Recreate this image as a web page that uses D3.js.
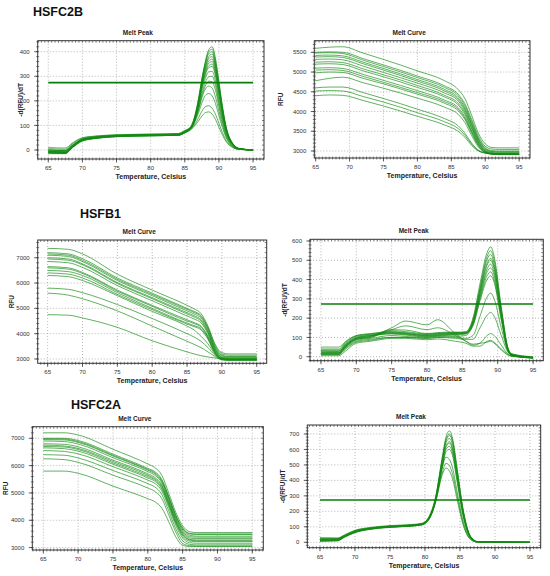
<!DOCTYPE html>
<html>
<head>
<meta charset="utf-8">
<script src="https://cdn.jsdelivr.net/npm/d3@7"></script>
<style>
  body { margin: 0; background: #fff; }
  text { font-family: "Liberation Sans", Arial, sans-serif; }
</style>
</head>
<body>
<svg id="fig" width="550" height="576"></svg>
<script>
// ---------- data ----------
const geneNames = ['HSFC2B', 'HSFB1', 'HSFC2A'];
const xTicks = [65, 70, 75, 80, 85, 90, 95];
const thresholds = [274, 273, 273];

// HSFC2B melt peak
const c2bPeakTemps = [65, 67.5, 68.5, 70, 72, 75, 80, 84, 85, 86, 87, 87.5, 88, 88.5, 89, 89.5, 90, 90.5, 91, 92, 93, 95];
const c2bPeak = [
  [-5, -8, 15, 42, 52, 58, 62, 64, 75, 100, 205, 290, 360, 408, 420, 372, 278, 182, 102, 28, 6, 0],
  [0, -3, 20, 45, 54, 60, 63, 65, 76, 98, 198, 282, 352, 400, 410, 362, 270, 176, 98, 27, 6, 1],
  [-10, -12, 12, 40, 50, 56, 60, 62, 73, 102, 208, 288, 352, 392, 400, 352, 262, 170, 95, 26, 5, 0],
  [5, 3, 25, 48, 56, 61, 64, 66, 78, 95, 195, 275, 340, 380, 390, 345, 258, 168, 93, 25, 5, 0],
  [-8, -10, 14, 40, 50, 56, 59, 61, 72, 96, 195, 272, 335, 372, 380, 338, 252, 165, 92, 25, 5, 0],
  [-12, -14, 10, 38, 48, 55, 58, 60, 70, 94, 190, 265, 327, 362, 370, 328, 245, 160, 90, 24, 5, 0],
  [0, -2, 18, 44, 53, 59, 62, 64, 75, 97, 188, 262, 320, 353, 360, 318, 238, 155, 88, 24, 5, 0],
  [-5, -7, 15, 42, 51, 57, 61, 63, 74, 95, 185, 258, 312, 343, 350, 310, 230, 150, 85, 23, 5, 0],
  [-15, -15, 8, 36, 47, 54, 58, 60, 70, 92, 182, 252, 305, 335, 340, 300, 222, 145, 82, 22, 4, 0],
  [10, 8, 28, 50, 57, 62, 65, 67, 80, 96, 180, 245, 292, 318, 320, 280, 205, 135, 78, 21, 4, 0],
  [-5, -8, 14, 40, 50, 56, 60, 62, 73, 93, 170, 230, 275, 298, 300, 262, 192, 126, 72, 20, 4, 0],
  [-10, -12, 10, 38, 48, 55, 58, 60, 70, 92, 165, 220, 260, 280, 278, 242, 178, 116, 66, 18, 4, 0],
  [0, -2, 18, 44, 52, 58, 61, 63, 74, 94, 162, 212, 248, 260, 252, 215, 158, 104, 60, 16, 3, 0],
  [-8, -10, 14, 40, 50, 56, 60, 62, 72, 90, 150, 192, 222, 230, 220, 188, 140, 92, 54, 14, 3, 0],
  [-5, -8, 15, 42, 51, 57, 61, 63, 74, 88, 130, 158, 176, 180, 170, 145, 108, 72, 42, 12, 3, 0],
  [-12, -14, 10, 38, 48, 55, 58, 60, 70, 85, 118, 138, 152, 155, 146, 124, 92, 62, 36, 10, 2, 0]
];

// HSFC2B melt curve
const c2bCurveTemps = [65, 67, 69, 72, 75, 80, 84, 86, 87, 88, 89, 90, 91, 92, 95];
const c2bCurve = [
  [5600, 5630, 5640, 5480, 5320, 5030, 4780, 4560, 4330, 3900, 3450, 3180, 3090, 3080, 3080],
  [5500, 5510, 5500, 5340, 5180, 4900, 4650, 4440, 4200, 3800, 3380, 3120, 3050, 3040, 3040],
  [5480, 5490, 5470, 5300, 5140, 4860, 4610, 4400, 4150, 3750, 3330, 3080, 3010, 3000, 3000],
  [5420, 5430, 5410, 5250, 5090, 4810, 4560, 4350, 4100, 3700, 3300, 3060, 2990, 2980, 2980],
  [5380, 5390, 5370, 5210, 5050, 4770, 4520, 4310, 4060, 3670, 3270, 3040, 2980, 2970, 2970],
  [5320, 5330, 5310, 5150, 4990, 4720, 4470, 4270, 4020, 3630, 3250, 3020, 2960, 2950, 2950],
  [5250, 5260, 5240, 5080, 4930, 4660, 4410, 4210, 3970, 3590, 3220, 3000, 2950, 2940, 2940],
  [5200, 5210, 5190, 5030, 4880, 4610, 4370, 4170, 3930, 3560, 3200, 2990, 2940, 2930, 2930],
  [5100, 5110, 5090, 4940, 4790, 4530, 4290, 4100, 3870, 3510, 3170, 2980, 2930, 2920, 2920],
  [5050, 5060, 5040, 4890, 4740, 4480, 4250, 4060, 3830, 3480, 3150, 2970, 2930, 2920, 2920],
  [4980, 5000, 4990, 4840, 4700, 4440, 4210, 4020, 3800, 3450, 3130, 2960, 2920, 2910, 2910],
  [4780, 4840, 4870, 4730, 4590, 4340, 4110, 3930, 3720, 3390, 3100, 2960, 2920, 2910, 2910],
  [4600, 4620, 4620, 4480, 4330, 4060, 3820, 3640, 3450, 3200, 3020, 2950, 2930, 2920, 2920],
  [4520, 4530, 4520, 4380, 4240, 3970, 3740, 3570, 3400, 3170, 3010, 2950, 2930, 2920, 2920],
  [4400, 4420, 4410, 4280, 4140, 3880, 3660, 3500, 3350, 3140, 3000, 2950, 2930, 2920, 2920]
];

// HSFB1 melt curve
const b1CurveTemps = [65, 68, 70, 75, 80, 85, 86, 87, 88, 89, 90, 91, 92, 95];
const b1Curve = [
  [7370, 7330, 7150, 6350, 5720, 5120, 4980, 4800, 4300, 3600, 3250, 3200, 3200, 3200],
  [7200, 7150, 6960, 6200, 5600, 5000, 4880, 4720, 4250, 3550, 3200, 3150, 3150, 3150],
  [7150, 7100, 6900, 6150, 5550, 4960, 4840, 4680, 4200, 3500, 3150, 3100, 3100, 3100],
  [7100, 7050, 6850, 6100, 5500, 4900, 4780, 4620, 4150, 3450, 3120, 3080, 3080, 3080],
  [7000, 6950, 6760, 6020, 5420, 4830, 4710, 4550, 4080, 3400, 3080, 3050, 3050, 3050],
  [6950, 6900, 6720, 5980, 5380, 4780, 4660, 4500, 4050, 3380, 3060, 3030, 3030, 3030],
  [6850, 6800, 6620, 5900, 5300, 4700, 4580, 4430, 3990, 3340, 3040, 3010, 3010, 3010],
  [6650, 6600, 6420, 5720, 5120, 4550, 4440, 4300, 3900, 3300, 3020, 3000, 3000, 3000],
  [6600, 6550, 6380, 5680, 5080, 4500, 4400, 4260, 3870, 3280, 3010, 2990, 2990, 2990],
  [6500, 6450, 6300, 5620, 5000, 4420, 4320, 4200, 3820, 3250, 3000, 2980, 2980, 2980],
  [6400, 6350, 6200, 5550, 4950, 4380, 4280, 4150, 3780, 3220, 2990, 2970, 2970, 2970],
  [6300, 6250, 6100, 5500, 4880, 4300, 4150, 3900, 3600, 3200, 2980, 2960, 2960, 2960],
  [5800, 5750, 5620, 5150, 4600, 4000, 3870, 3700, 3450, 3150, 2980, 2950, 2950, 2950],
  [5600, 5520, 5380, 4900, 4300, 3700, 3580, 3450, 3280, 3100, 2970, 2950, 2950, 2950],
  [4750, 4730, 4620, 4250, 3720, 3280, 3200, 3130, 3080, 3040, 3000, 2980, 2980, 2980]
];

// HSFB1 melt peak
const b1PeakTemps = [65, 67.5, 68.5, 70, 72, 75, 77, 80, 81.5, 84, 85.5, 86.5, 87.5, 88.5, 89, 89.5, 90.5, 91.5, 92, 95];
const b1Peak = [
  [50, 50, 80, 110, 120, 130, 125, 115, 120, 125, 130, 200, 380, 540, 570, 520, 260, 40, 15, 0],
  [40, 40, 75, 108, 118, 128, 122, 112, 118, 122, 128, 190, 360, 520, 550, 500, 250, 38, 14, -2],
  [35, 35, 70, 105, 115, 125, 120, 110, 115, 120, 125, 185, 350, 505, 530, 480, 240, 35, 12, -3],
  [30, 28, 65, 100, 112, 122, 118, 108, 112, 118, 122, 180, 340, 485, 510, 465, 230, 32, 10, -5],
  [25, 25, 62, 98, 110, 120, 115, 105, 110, 115, 120, 175, 320, 455, 480, 435, 215, 30, 10, -5],
  [20, 20, 58, 95, 108, 118, 112, 102, 108, 112, 118, 170, 310, 440, 460, 420, 210, 28, 8, -6],
  [15, 15, 55, 92, 105, 140, 138, 120, 125, 128, 125, 165, 300, 420, 440, 400, 200, 28, 8, -8],
  [12, 12, 50, 90, 100, 135, 130, 118, 122, 125, 120, 160, 290, 400, 420, 385, 190, 26, 8, -8],
  [10, 10, 40, 75, 85, 100, 100, 95, 100, 105, 110, 170, 330, 475, 500, 455, 225, 30, 10, -5],
  [20, 20, 50, 85, 95, 110, 105, 100, 105, 100, 95, 110, 210, 310, 330, 300, 150, 25, 8, -5],
  [15, 15, 45, 80, 90, 100, 100, 95, 100, 95, 90, 90, 150, 215, 230, 210, 110, 20, 6, -5],
  [30, 30, 60, 95, 105, 150, 185, 165, 192, 120, 80, 60, 70, 110, 120, 110, 60, 12, 4, -5],
  [20, 20, 55, 90, 100, 140, 160, 140, 150, 110, 80, 65, 70, 75, 80, 70, 35, 8, 2, -5],
  [5, 5, 30, 70, 80, 95, 95, 88, 92, 80, 70, 55, 55, 80, 85, 75, 40, 10, 3, -5]
];

// HSFC2A melt curve
const c2aCurveTemps = [65, 68, 70, 75, 80, 81, 82, 83, 84, 85, 86, 87, 90, 95];
const c2aCurve = [
  [7200, 7200, 7120, 6600, 6060, 5930, 5650, 5000, 4300, 3800, 3580, 3550, 3550, 3550],
  [7000, 7000, 6920, 6420, 5900, 5780, 5500, 4880, 4200, 3720, 3520, 3500, 3500, 3500],
  [6980, 6970, 6880, 6380, 5860, 5740, 5460, 4850, 4180, 3700, 3500, 3480, 3480, 3480],
  [6950, 6940, 6850, 6350, 5830, 5700, 5420, 4800, 4130, 3650, 3450, 3420, 3420, 3420],
  [6900, 6880, 6790, 6290, 5780, 5650, 5370, 4750, 4080, 3600, 3400, 3380, 3380, 3380],
  [6800, 6780, 6690, 6200, 5700, 5570, 5290, 4680, 4020, 3550, 3350, 3330, 3330, 3330],
  [6750, 6720, 6630, 6150, 5650, 5520, 5250, 4640, 3980, 3500, 3300, 3280, 3280, 3280],
  [6700, 6680, 6590, 6100, 5600, 5480, 5200, 4600, 3950, 3470, 3280, 3250, 3250, 3250],
  [6650, 6620, 6530, 6050, 5550, 5430, 5150, 4550, 3900, 3420, 3240, 3220, 3220, 3220],
  [6550, 6520, 6430, 5960, 5470, 5350, 5080, 4480, 3830, 3350, 3180, 3160, 3160, 3160],
  [6400, 6380, 6280, 5820, 5340, 5220, 4950, 4350, 3700, 3250, 3120, 3100, 3100, 3100],
  [6250, 6220, 6120, 5650, 5180, 5060, 4800, 4200, 3580, 3150, 3070, 3060, 3060, 3060],
  [5800, 5800, 5720, 5250, 4790, 4680, 4450, 3950, 3400, 3080, 3040, 3040, 3040, 3040]
];

// HSFC2A melt peak
const c2aPeakTemps = [65, 67.5, 68.5, 70, 72, 75, 78, 79.5, 80.5, 81.5, 82.5, 83, 83.5, 84, 84.5, 85.5, 86.5, 87.5, 90, 95];
const c2aPeak = [
  [25, 25, 45, 75, 92, 105, 112, 120, 160, 290, 560, 680, 720, 660, 510, 200, 40, 5, 3, 0],
  [20, 22, 42, 72, 90, 103, 110, 118, 155, 280, 545, 665, 700, 645, 495, 195, 38, 4, 2, 0],
  [15, 18, 40, 70, 88, 100, 108, 116, 150, 275, 535, 655, 690, 635, 488, 190, 36, 4, 2, 0],
  [30, 28, 48, 78, 95, 108, 115, 122, 158, 285, 540, 645, 670, 615, 470, 185, 35, 3, 2, 0],
  [10, 12, 35, 65, 85, 98, 106, 114, 148, 268, 515, 625, 650, 595, 455, 178, 33, 3, 1, 0],
  [5, 8, 32, 62, 82, 96, 104, 112, 145, 262, 505, 615, 640, 585, 448, 175, 32, 3, 1, 0],
  [18, 20, 40, 70, 88, 102, 110, 118, 150, 268, 500, 600, 620, 565, 430, 165, 30, 2, 1, 0],
  [12, 14, 36, 66, 85, 99, 107, 115, 147, 262, 488, 585, 600, 548, 415, 160, 28, 2, 1, 0],
  [22, 22, 42, 72, 90, 104, 110, 118, 150, 275, 490, 550, 535, 470, 350, 130, 22, 2, 1, 0],
  [10, 12, 34, 64, 84, 98, 105, 112, 145, 262, 455, 510, 495, 430, 320, 115, 20, 2, 1, 0],
  [15, 15, 36, 66, 86, 100, 106, 113, 142, 255, 440, 480, 460, 400, 295, 105, 18, 2, 1, 0]
];

const peakTicks = [0, 100, 200, 300, 400, 500, 600, 700];
const c2bCurveTicks = [3000, 3500, 4000, 4500, 5000, 5500];
const rfuTicks = [3000, 4000, 5000, 6000, 7000];

// ---------- layout ----------
const svg = d3.select('#fig');
const green = '#138a13';

const panels = [
  { temps: c2bPeakTemps, rows: c2bPeak, box: [37.7, 40.7, 226.3, 118.3], xd: [63.45, 96.6], yd: [-36.6, 444.8],
    ticks: peakTicks.slice(0, 5), minor: 20, title: 'Melt Peak', ylab: '-d(RFU)/dT', ylabX: 20.5, thr: thresholds[0] },
  { temps: c2bCurveTemps, rows: c2bCurve, box: [314.3, 40.7, 215.7, 117.3], xd: [64.8, 96.6], yd: [2823, 5794],
    ticks: c2bCurveTicks, minor: 100, title: 'Melt Curve', ylab: 'RFU', ylabX: 281 },
  { temps: b1CurveTemps, rows: b1Curve, box: [37.7, 240, 229, 123.3], xd: [63.57, 96.43], yd: [2830, 7700],
    ticks: rfuTicks, minor: 200, title: 'Melt Curve', ylab: 'RFU', ylabX: 11.5 },
  { temps: b1PeakTemps, rows: b1Peak, box: [310, 239.3, 233.3, 121.4], xd: [63.45, 96.45], yd: [-20.7, 608.8],
    ticks: peakTicks.slice(0, 7), minor: 20, title: 'Melt Peak', ylab: '-d(RFU)/dT', ylabX: 285, thr: thresholds[1] },
  { temps: c2aCurveTemps, rows: c2aCurve, box: [32.3, 426.7, 231, 123.3], xd: [63.42, 96.58], yd: [2912, 7424],
    ticks: rfuTicks, minor: 200, title: 'Melt Curve', ylab: 'RFU', ylabX: 5.5 },
  { temps: c2aPeakTemps, rows: c2aPeak, box: [307.3, 425, 233.4, 122.7], xd: [63.19, 96.53], yd: [-35, 758],
    ticks: peakTicks, minor: 20, title: 'Melt Peak', ylab: '-d(RFU)/dT', ylabX: 283, thr: thresholds[2] }
];

// gene headings
const headPos = [[33, 16], [80, 217.5], [71, 409]];
geneNames.forEach((g, i) => {
  svg.append('text').text(g)
    .attr('x', headPos[i][0]).attr('y', headPos[i][1])
    .attr('font-family', 'Lato, sans-serif')
    .attr('font-weight', 700).attr('font-size', '12.5px').attr('fill', '#111');
});

panels.forEach((p, i) => {
  const [bx, by, bw, bh] = p.box;
  const x = d3.scaleLinear().domain(p.xd).range([bx, bx + bw]);
  const y = d3.scaleLinear().domain(p.yd).range([by + bh, by]);
  const g = svg.append('g');

  // grid
  g.selectAll('.gx').data(xTicks).join('line')
    .attr('x1', d => x(d)).attr('x2', d => x(d)).attr('y1', by).attr('y2', by + bh)
    .attr('stroke', '#9a9a9a').attr('stroke-width', 0.7).attr('stroke-dasharray', '1,2');
  g.selectAll('.gy').data(p.ticks).join('line')
    .attr('x1', bx).attr('x2', bx + bw).attr('y1', d => y(d)).attr('y2', d => y(d))
    .attr('stroke', '#9a9a9a').attr('stroke-width', 0.7).attr('stroke-dasharray', '1,2');

  // curves
  const clipId = 'clip' + i;
  svg.append('clipPath').attr('id', clipId).append('rect')
    .attr('x', bx).attr('y', by).attr('width', bw).attr('height', bh);
  const line = d3.line()
    .x((d, k) => x(p.temps[k]))
    .y(d => y(d))
    .curve(d3.curveMonotoneX);
  g.append('g').attr('clip-path', `url(#${clipId})`)
    .selectAll('path').data(p.rows).join('path')
    .attr('d', line)
    .attr('fill', 'none').attr('stroke', green)
    .attr('stroke-width', 0.9).attr('stroke-opacity', 0.75);

  // threshold
  if (p.thr !== undefined) {
    g.append('line')
      .attr('x1', x(65)).attr('x2', x(95)).attr('y1', y(p.thr)).attr('y2', y(p.thr))
      .attr('stroke', '#0a7d0a').attr('stroke-width', 1.6);
  }

  // frame
  g.append('rect').attr('x', bx).attr('y', by).attr('width', bw).attr('height', bh)
    .attr('fill', 'none').attr('stroke', '#333').attr('stroke-width', 1);

  // minor ticks along frame
  const xMinor = d3.range(Math.ceil(p.xd[0] * 2) / 2, p.xd[1], 0.5);
  g.selectAll('.mxb').data(xMinor).join('line')
    .attr('x1', d => x(d)).attr('x2', d => x(d)).attr('y1', by + bh - 1.5).attr('y2', by + bh + 1.5)
    .attr('stroke', '#333').attr('stroke-width', 0.6);
  g.selectAll('.mxt').data(xMinor).join('line')
    .attr('x1', d => x(d)).attr('x2', d => x(d)).attr('y1', by).attr('y2', by + 2)
    .attr('stroke', '#333').attr('stroke-width', 0.6);
  const yMinor = d3.range(Math.ceil(p.yd[0] / p.minor) * p.minor, p.yd[1], p.minor);
  g.selectAll('.myl').data(yMinor).join('line')
    .attr('x1', bx - 1.5).attr('x2', bx + 1.5).attr('y1', d => y(d)).attr('y2', d => y(d))
    .attr('stroke', '#333').attr('stroke-width', 0.6);
  g.selectAll('.myr').data(yMinor).join('line')
    .attr('x1', bx + bw - 2).attr('x2', bx + bw).attr('y1', d => y(d)).attr('y2', d => y(d))
    .attr('stroke', '#333').attr('stroke-width', 0.6);

  // major ticks (outward)
  g.selectAll('.Mx').data(xTicks).join('line')
    .attr('x1', d => x(d)).attr('x2', d => x(d)).attr('y1', by + bh).attr('y2', by + bh + 3.5)
    .attr('stroke', '#333').attr('stroke-width', 0.8);
  g.selectAll('.My').data(p.ticks).join('line')
    .attr('x1', bx - 3.5).attr('x2', bx).attr('y1', d => y(d)).attr('y2', d => y(d))
    .attr('stroke', '#333').attr('stroke-width', 0.8);

  // tick labels
  g.selectAll('.tx').data(xTicks).join('text').text(d => d)
    .attr('x', d => x(d)).attr('y', by + bh + 11)
    .attr('text-anchor', 'middle').attr('font-size', '6px').attr('fill', '#333');
  g.selectAll('.ty').data(p.ticks).join('text').text(d => d)
    .attr('x', bx - 8).attr('y', d => y(d) + 2.1)
    .attr('text-anchor', 'end').attr('font-size', '6px').attr('fill', '#333');

  // titles and axis labels
  g.append('text').text(p.title)
    .attr('x', bx + bw / 2 - 13).attr('y', by - 6)
    .attr('text-anchor', 'middle').attr('font-size', '6.5px').attr('font-weight', 700).attr('fill', '#222');
  g.append('text').text('Temperature, Celsius')
    .attr('x', bx + bw / 2).attr('y', by + bh + 20)
    .attr('text-anchor', 'middle').attr('font-size', '7px').attr('font-weight', 700).attr('fill', '#222');
  g.append('text').text(p.ylab)
    .attr('transform', `translate(${p.ylabX},${by + bh / 2}) rotate(-90)`)
    .attr('text-anchor', 'middle').attr('dy', '0.35em')
    .attr('font-size', '6.5px').attr('font-weight', 700).attr('fill', '#222');
});
</script>
</body>
</html>
